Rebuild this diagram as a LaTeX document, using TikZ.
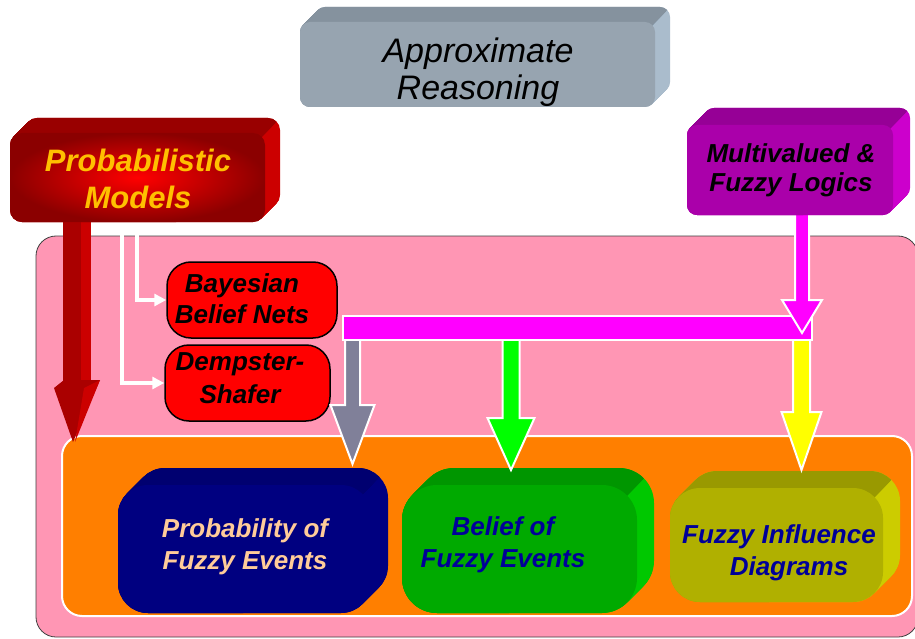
\documentclass[tikz,border=0pt]{standalone}
\usepackage{fontspec}
\setmainfont{Liberation Sans}
\usetikzlibrary{arrows.meta,calc}
\definecolor{pinkbg}{RGB}{255,150,180}
\definecolor{orangebg}{RGB}{255,127,0}
\definecolor{apxF}{RGB}{151,164,176}
\definecolor{apxT}{RGB}{133,146,158}
\definecolor{apxS}{RGB}{170,188,204}
\definecolor{pmdark}{RGB}{139,0,0}
\definecolor{pmbright}{RGB}{255,0,0}
\definecolor{pmT}{RGB}{153,0,0}
\definecolor{pmS}{RGB}{204,0,0}
\definecolor{mvF}{RGB}{170,0,170}
\definecolor{mvT}{RGB}{150,0,150}
\definecolor{mvS}{RGB}{204,0,204}
\definecolor{navyF}{RGB}{0,0,128}
\definecolor{navyT}{RGB}{0,0,112}
\definecolor{grF}{RGB}{0,170,0}
\definecolor{grT}{RGB}{0,150,0}
\definecolor{grS}{RGB}{0,200,0}
\definecolor{olF}{RGB}{176,176,0}
\definecolor{olT}{RGB}{153,153,0}
\definecolor{olS}{RGB}{204,204,0}
\definecolor{greyarrow}{RGB}{128,128,153}
\definecolor{greenarrow}{RGB}{0,255,0}
\definecolor{yellowarrow}{RGB}{255,255,0}
\definecolor{magentabar}{RGB}{255,0,255}
\definecolor{redfill}{RGB}{255,0,0}
\definecolor{peach}{RGB}{255,204,153}
\definecolor{navytext}{RGB}{0,0,153}
\definecolor{goldtext}{RGB}{255,192,0}
\definecolor{redarrowA}{RGB}{170,0,0}
\definecolor{redarrowB}{RGB}{204,0,0}
% 3D box: x0,y0,x1,y1,depth,radius,front options,top colour,side colour
\newcommand\tdbox[9]{%
  \foreach \t in {0,0.5,...,#5}{\fill[#9, rounded corners=#6] (#1+\t,#2-\t) rectangle (#3+\t,#4-\t);}
  \begin{scope}
    \clip (#3-0.3*#6+600,#2+0.3*#6-600) -- (#3-0.3*#6-600,#2+0.3*#6+600) -- (#3-0.3*#6-600,#2+0.3*#6-600) -- cycle;
    \foreach \t in {0,0.5,...,#5}{\fill[#8, rounded corners=#6] (#1+\t,#2-\t) rectangle (#3+\t,#4-\t);}
  \end{scope}
  \path[#7, rounded corners=#6] (#1,#2) rectangle (#3,#4);
}
% block arrow: cx, y0, y1 (head base), y2 (tip), half shaft, half head, colour
\newcommand\blockarrow[7]{%
  \filldraw[fill=#7, draw=white, line width=2pt, line join=miter]
    (#1-#5,#2) -- (#1-#5,#3) -- (#1-#6,#3) -- (#1,#4) -- (#1+#6,#3) -- (#1+#5,#3) -- (#1+#5,#2) -- cycle;
}
\tikzset{
  lbl/.style={align=center, anchor=base, inner sep=0pt, font=\fontsize{26}{32}\selectfont\bfseries\itshape},
  redbox/.style={fill=redfill, draw=black, line width=1.5pt, rounded corners=24pt, inner sep=0pt},
  wline/.style={draw=white, line width=4pt, -{Triangle[length=12pt,width=12pt]}},
}
\begin{document}
\begin{tikzpicture}[x=1pt,y=-1pt]
\useasboundingbox (0,0) rectangle (915,639);
\clip (0,0) rectangle (915,639);
\fill[white] (0,0) rectangle (915,639);
% big pink area
\filldraw[fill=pinkbg, draw=black!75, line width=0.8pt, rounded corners=20pt] (36,236) rectangle (918,637);
% orange area
\filldraw[fill=orangebg, draw=white, line width=2pt, rounded corners=20pt] (62,436) rectangle (912,616);
% big red arrow
\fill[redarrowA] (63,215) rectangle (81,384);
\fill[redarrowB] (81,215) rectangle (91,384);
\fill[redarrowA] (54,388) -- (64,380) -- (100,380) -- (73,442) -- cycle;
\fill[redarrowB] (84,388) -- (100,380) -- (75,442) -- cycle;
% red boxes
\node[redbox, minimum width=170pt, minimum height=76pt] (bayes) at (252,300) {};
\node[redbox, minimum width=165pt, minimum height=76pt] (dempster) at (247.5,383) {};
\node[lbl, font=\fontsize{26}{31}\selectfont\bfseries\itshape] (bayestxt) at (242,323) {Bayesian\\Belief Nets};
\node[lbl, font=\fontsize{26}{33}\selectfont\bfseries\itshape] (demptxt) at (240,403) {Dempster-\\Shafer};
% white connectors
\coordinate (pmA) at (137,222);
\coordinate (pmB) at (122,222);
\draw[wline] (pmA) |- (bayes.west);
\draw[wline] (pmB) |- (dempster.west);
% bottom boxes
\tdbox{118}{485}{371}{613}{17}{30}{fill=navyF}{navyT}{navyF}
\tdbox{402}{485}{637}{613}{17}{35}{fill=grF}{grT}{grS}
\tdbox{670}{488}{883}{602}{17}{30}{fill=olF}{olT}{olS}
\node[lbl, text=peach] (pfe) at (245,569) {Probability of\\Fuzzy Events};
\node[lbl, text=navytext] (bfe) at (503,567) {Belief of\\Fuzzy Events};
\node[lbl, text=navytext] (fid) at (779,575) {Fuzzy Influence\\\hspace*{20pt}Diagrams};
% distribution arrows
\blockarrow{352.5}{330}{405}{464}{7.5}{22}{greyarrow}
\blockarrow{511}{330}{418}{470}{8.5}{23.5}{greenarrow}
\blockarrow{801.5}{330}{412}{470}{8.5}{20}{yellowarrow}
\filldraw[fill=magentabar, draw=white, line width=2pt] (343,316) rectangle (812,340);
\blockarrow{802}{205}{300}{333}{7}{20}{magentabar}
% top boxes
\tdbox{300}{22}{655}{107}{15}{10}{fill=apxF}{apxT}{apxS}
\tdbox{10}{133}{265}{222}{15}{12}{inner color=pmbright,outer color=pmdark,shade}{pmT}{pmS}
\tdbox{687}{125}{893}{215}{17}{10}{fill=mvF}{mvT}{mvS}
\node[lbl, font=\fontsize{34}{37}\selectfont\itshape] (apx) at (478,100) {Approximate\\Reasoning};
\node[lbl, text=goldtext, font=\fontsize{31}{37}\selectfont\bfseries\itshape] (pm) at (138,208) {Probabilistic\\Models};
\node[lbl, font=\fontsize{26}{29.5}\selectfont\bfseries\itshape] (mv) at (791,192) {Multivalued \&\\Fuzzy Logics};
\end{tikzpicture}
\end{document}
